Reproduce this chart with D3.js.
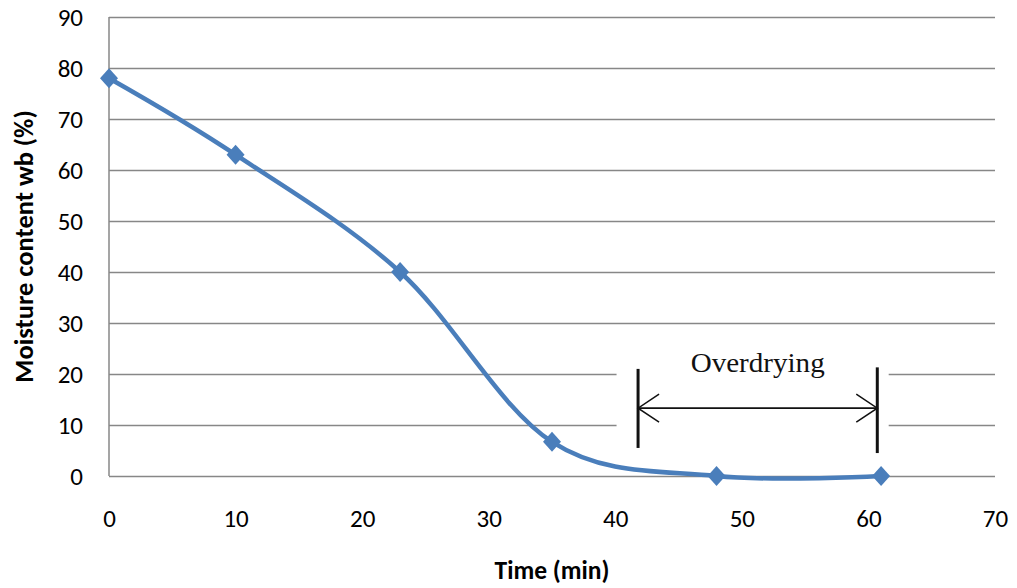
<!DOCTYPE html>
<html>
<head>
<meta charset="utf-8">
<script src="https://cdn.jsdelivr.net/npm/d3@7/dist/d3.min.js"></script>
<style>
  html, body { margin: 0; padding: 0; background: #fff; }
  svg { display: block; }
</style>
</head>
<body>
<svg id="chart" width="1017" height="588"></svg>
<script>
// Drying curve: moisture content (wet basis) over time
const timeMin = [0, 10, 23, 35, 48, 61];
const moisture = [78, 63, 40, 6.7, 0, 0];
const xTicks = [0, 10, 20, 30, 40, 50, 60, 70];
const yTicks = [0, 10, 20, 30, 40, 50, 60, 70, 80, 90];
const overdrying = { label: "Overdrying", from: 41.8, to: 60.7 };

const svg = d3.select("#chart");
const W = 1017, H = 588;
const margin = { left: 109, right: 22, top: 17, bottom: 112 };

const x = d3.scaleLinear().domain([0, 70]).range([margin.left, W - margin.right]);
const y = d3.scaleLinear().domain([0, 90]).range([H - margin.bottom, margin.top]);

const font = "Carlito, Lato, 'Liberation Sans', sans-serif";
const gridColor = "#878787";

// Horizontal gridlines
const grid = svg.append("g")
  .attr("transform", `translate(${margin.left},0)`)
  .call(d3.axisLeft(y).tickValues(yTicks).tickSize(-(x.range()[1] - x.range()[0])).tickFormat(""));
grid.select(".domain").remove();
grid.selectAll("line").attr("stroke", gridColor).attr("stroke-width", 1.5);

// White panel behind the annotation, interrupting the gridlines
svg.append("rect")
  .attr("x", x(40.1)).attr("y", y(24.5))
  .attr("width", x(61.6) - x(40.1)).attr("height", y(4) - y(24.5))
  .attr("fill", "#fff");

// Left axis line
svg.append("line")
  .attr("x1", x(0)).attr("x2", x(0))
  .attr("y1", y(90)).attr("y2", y(0))
  .attr("stroke", gridColor).attr("stroke-width", 1.5);

// Y tick labels
const yAxis = svg.append("g")
  .attr("transform", `translate(${margin.left - 26},0)`)
  .call(d3.axisLeft(y).tickValues(yTicks).tickSize(0).tickPadding(0));
yAxis.select(".domain").remove();
yAxis.selectAll("text")
  .attr("font-family", font).attr("font-size", 25).attr("fill", "#000")
  .attr("dy", "0.35em");

// X tick labels
const xAxis = svg.append("g")
  .attr("transform", `translate(0,${y(0) + 30})`)
  .call(d3.axisBottom(x).tickValues(xTicks).tickSize(0).tickPadding(0));
xAxis.select(".domain").remove();
xAxis.selectAll("text")
  .attr("font-family", font).attr("font-size", 25).attr("fill", "#000")
  .attr("dy", "0.35em").attr("y", 12);

// Axis titles
svg.append("text")
  .attr("x", x(35)).attr("y", 579)
  .attr("text-anchor", "middle")
  .attr("font-family", font).attr("font-size", 25.5).attr("font-weight", "bold")
  .text("Time (min)");

svg.append("text")
  .attr("transform", `translate(33,${(y(0) + y(90)) / 2}) rotate(-90)`)
  .attr("text-anchor", "middle")
  .attr("font-family", font).attr("font-size", 26.5).attr("font-weight", "bold")
  .text("Moisture content wb (%)");

// Smoothed drying curve
const pts = timeMin.map((t, i) => [t, moisture[i]]);
const line = d3.line()
  .x(d => x(d[0])).y(d => y(d[1]))
  .curve(d3.curveCardinal.tension(0));
svg.append("path")
  .datum(pts)
  .attr("d", line)
  .attr("fill", "none")
  .attr("stroke", "#4a7ebb")
  .attr("stroke-width", 4.5)
  .attr("stroke-linejoin", "round");

// Diamond markers
svg.selectAll(".marker")
  .data(pts)
  .join("path")
  .attr("class", "marker")
  .attr("transform", d => `translate(${x(d[0])},${y(d[1])})`)
  .attr("d", "M0,-10L9,0L0,10L-9,0Z")
  .attr("fill", "#4a7ebb");

// Overdrying annotation: bracket bars with a double-headed arrow
const ann = svg.append("g");
const ax1 = x(overdrying.from), ax2 = x(overdrying.to);
const ay = y(13.3);
ann.append("line")
  .attr("x1", ax1).attr("x2", ax1).attr("y1", y(21)).attr("y2", y(5.5))
  .attr("stroke", "#111").attr("stroke-width", 3);
ann.append("line")
  .attr("x1", ax2).attr("x2", ax2).attr("y1", y(21.3)).attr("y2", y(4.5))
  .attr("stroke", "#111").attr("stroke-width", 3);
ann.append("line")
  .attr("x1", ax1).attr("x2", ax2).attr("y1", ay).attr("y2", ay)
  .attr("stroke", "#111").attr("stroke-width", 1.6);
ann.append("path")
  .attr("d", `M${ax1 + 21},${ay - 14}L${ax1},${ay}L${ax1 + 21},${ay + 14}`)
  .attr("fill", "none").attr("stroke", "#111").attr("stroke-width", 1.5);
ann.append("path")
  .attr("d", `M${ax2 - 21},${ay - 14}L${ax2},${ay}L${ax2 - 21},${ay + 14}`)
  .attr("fill", "none").attr("stroke", "#111").attr("stroke-width", 1.5);
ann.append("text")
  .attr("x", (ax1 + ax2) / 2).attr("y", y(20.3))
  .attr("text-anchor", "middle")
  .attr("font-family", "'Liberation Serif', 'Times New Roman', serif")
  .attr("font-size", 28)
  .attr("textLength", 134)
  .attr("lengthAdjust", "spacingAndGlyphs")
  .attr("fill", "#111")
  .text(overdrying.label);
</script>
</body>
</html>
